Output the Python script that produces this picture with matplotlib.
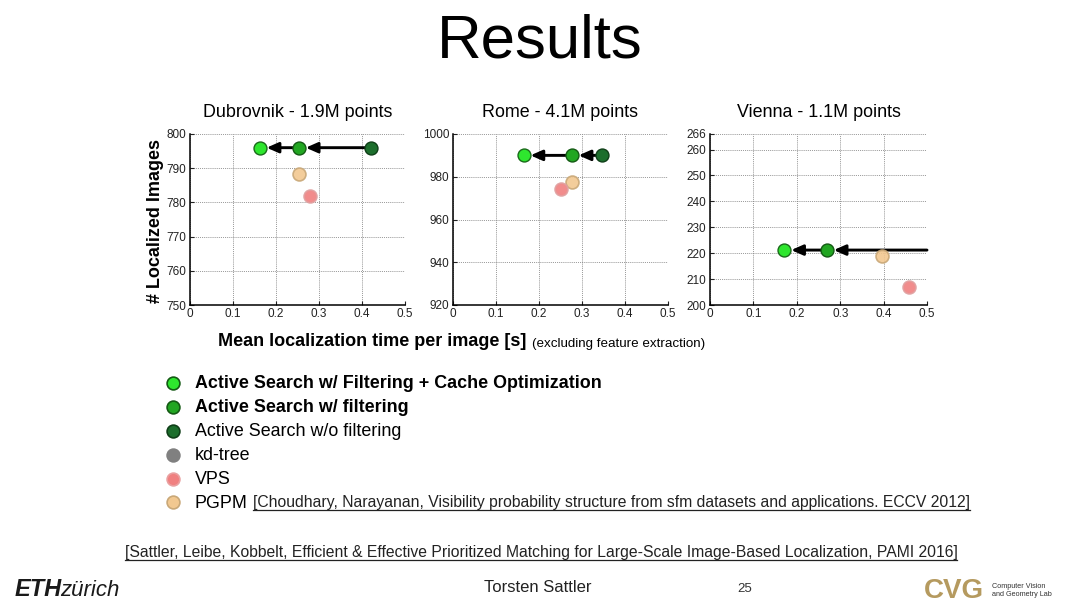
import matplotlib
matplotlib.use('Agg')
import matplotlib.pyplot as plt
from matplotlib.lines import Line2D

plt.rcParams['font.family'] = ['Liberation Sans', 'DejaVu Sans']

# ---------------- data ----------------
titles = ['Dubrovnik - 1.9M points', 'Rome - 4.1M points', 'Vienna - 1.1M points']
ylims = [(750, 800), (920, 1000), (200, 266)]
yticks = [[750, 760, 770, 780, 790, 800],
          [920, 940, 960, 980, 1000],
          [200, 210, 220, 230, 240, 250, 260, 266]]
xticks = [0, 0.1, 0.2, 0.3, 0.4, 0.5]
xticklabels = ['0', '0.1', '0.2', '0.3', '0.4', '0.5']

# Active Search w/ Filtering + Cache Optimization
cache_t = [0.162, 0.164, 0.171]
cache_n = [796, 990, 221.2]
# Active Search w/ filtering
filt_t = [0.253, 0.276, 0.269]
filt_n = [796, 990, 221.2]
# Active Search w/o filtering (Vienna lies beyond the plotted range)
nofilt_t = [0.421, 0.347, None]
nofilt_n = [796, 990, 221.2]
# VPS
vps_t = [0.279, 0.251, 0.458]
vps_n = [782, 974.4, 206.8]
# PGPM
pgpm_t = [0.253, 0.277, 0.397]
pgpm_n = [788.2, 977.6, 218.8]

legend_labels = ['Active Search w/ Filtering + Cache Optimization',
                 'Active Search w/ filtering',
                 'Active Search w/o filtering',
                 'kd-tree', 'VPS', 'PGPM']
legend_bold = [True, True, False, False, False, False]

C_CACHE = '#2ee62e'
C_FILT = '#22a622'
C_NOFILT = '#1c6e2c'
C_KD = '#808080'
C_VPS = '#f08080'
C_PGPM = '#f2c890'
legend_colors = [C_CACHE, C_FILT, C_NOFILT, C_KD, C_VPS, C_PGPM]
legend_edges = ['#145a14', '#145a14', '#0f3f18', '#808080', '#e9a0a0', '#c9a878']

# ---------------- figure ----------------
W, H = 1080, 607
fig = plt.figure(figsize=(W / 100, H / 100), dpi=100)
fig.patch.set_facecolor('white')

def fx(px):
    return px / W

def fy(py):
    return 1 - py / H

axes_px = [(190, 405), (453, 668), (710, 927)]
top_px, bot_px = 134, 305

fig.text(0.5, fy(42), 'Results', ha='center', va='center', fontsize=44.5)

ms = 9.3
for i, (x0, x1) in enumerate(axes_px):
    ax = fig.add_axes([fx(x0), fy(bot_px), fx(x1 - x0), (bot_px - top_px) / H])
    ax.set_xlim(0, 0.5)
    ax.set_ylim(*ylims[i])
    ax.set_xticks(xticks)
    ax.set_xticklabels(xticklabels)
    ax.set_yticks(yticks[i])
    ax.tick_params(direction='in', length=3, labelsize=8.5, pad=2.5, colors='#222222')
    ax.grid(True, linestyle=(0, (1, 1.3)), color='#777777', linewidth=0.6)
    ax.set_axisbelow(True)
    for s in ['top', 'right']:
        ax.spines[s].set_visible(False)
    for s in ['left', 'bottom']:
        ax.spines[s].set_linewidth(1.1)
    ax.set_title(titles[i], fontsize=12.9, pad=12)

    arrow_kw = dict(arrowstyle='-|>,head_length=0.5,head_width=0.22', color='black',
                    lw=2.1, shrinkA=0, shrinkB=5.0, mutation_scale=14)
    # arrow: w/o filtering -> w/ filtering
    if nofilt_t[i] is not None:
        ax.annotate('', xy=(filt_t[i], filt_n[i]), xytext=(nofilt_t[i], nofilt_n[i]),
                    arrowprops=arrow_kw, zorder=3)
    else:
        ax.annotate('', xy=(filt_t[i], filt_n[i]), xytext=(1.0, nofilt_n[i]),
                    textcoords=('axes fraction', 'data'), arrowprops=arrow_kw, zorder=3)
    # arrow: w/ filtering -> cache optimization
    ax.annotate('', xy=(cache_t[i], cache_n[i]), xytext=(filt_t[i], filt_n[i]),
                arrowprops=arrow_kw, zorder=3)

    ax.plot([pgpm_t[i]], [pgpm_n[i]], 'o', ms=ms, mfc=C_PGPM, mec='#c9a878', mew=1.2,
            alpha=0.9, zorder=4, clip_on=False)
    ax.plot([vps_t[i]], [vps_n[i]], 'o', ms=ms, mfc=C_VPS, mec='#e0a0a0', mew=1.2,
            alpha=0.9, zorder=4, clip_on=False)
    if nofilt_t[i] is not None:
        ax.plot([nofilt_t[i]], [nofilt_n[i]], 'o', ms=ms, mfc=C_NOFILT, mec='#0f3f18',
                mew=1.0, zorder=5, clip_on=False)
    ax.plot([filt_t[i]], [filt_n[i]], 'o', ms=ms, mfc=C_FILT, mec='#145a14', mew=1.0,
            zorder=5, clip_on=False)
    ax.plot([cache_t[i]], [cache_n[i]], 'o', ms=ms, mfc=C_CACHE, mec='#1a6a1a', mew=1.0,
            zorder=5, clip_on=False)

# axis labels
fig.text(fx(156), fy(221), '# Localized Images', rotation=90, ha='center', va='center',
         fontsize=13, fontweight='bold')
fig.text(fx(218), fy(342), 'Mean localization time per image [s]', ha='left', va='center',
         fontsize=13, fontweight='bold')
fig.text(fx(532), fy(344), '(excluding feature extraction)', ha='left', va='center',
         fontsize=9.6)

# legend (manual)
row_y = [384, 408, 432, 456, 480, 503]
for lbl, col, ec, bold, yy in zip(legend_labels, legend_colors, legend_edges, legend_bold, row_y):
    fig.add_artist(Line2D([fx(173)], [fy(yy - 1)], marker='o', ms=9.2, mfc=col, mec=ec, mew=1.2,
                          linestyle='none', transform=fig.transFigure))
    fig.text(fx(195), fy(yy), lbl, ha='left', va='center', fontsize=12.9,
             fontweight='bold' if bold else 'normal')

renderer = fig.canvas.get_renderer()

def underlined(x, y, s, **kw):
    t = fig.text(x, y, s, **kw)
    bb = t.get_window_extent(renderer=renderer)
    yline = bb.y0 + 1.0
    fig.add_artist(Line2D([bb.x0, bb.x1], [yline, yline], color='#222222', lw=0.9,
                          transform=None))
    return t

underlined(fx(253), fy(503), '[Choudhary, Narayanan, Visibility probability structure from sfm datasets and applications. ECCV 2012]',
           ha='left', va='center', fontsize=11.3, color='#222222')

underlined(fx(541), fy(553), '[Sattler, Leibe, Kobbelt, Efficient & Effective Prioritized Matching for Large-Scale Image-Based Localization, PAMI 2016]',
           ha='center', va='center', fontsize=11.3, color='#222222')

# footer
fig.text(fx(15), fy(590), 'ETH', ha='left', va='center', fontsize=17, fontweight='heavy',
         fontstyle='italic', color='#1a1a1a')
fig.text(fx(60), fy(590), 'zürich', ha='left', va='center', fontsize=16,
         fontstyle='italic', color='#1a1a1a')
fig.text(fx(538), fy(588), 'Torsten Sattler', ha='center', va='center', fontsize=12,
         color='#222222')
fig.text(fx(745), fy(589), '25', ha='center', va='center', fontsize=9.5, color='#333333')
fig.text(fx(954), fy(591), 'CVG', ha='center', va='center', fontsize=20, fontweight='bold',
         color='#b59a5f')
fig.text(fx(992), fy(590), 'Computer Vision\nand Geometry Lab', ha='left', va='center',
         fontsize=5.2, color='#333333', linespacing=1.2)

fig.savefig('out.png', dpi=100, facecolor='white')
